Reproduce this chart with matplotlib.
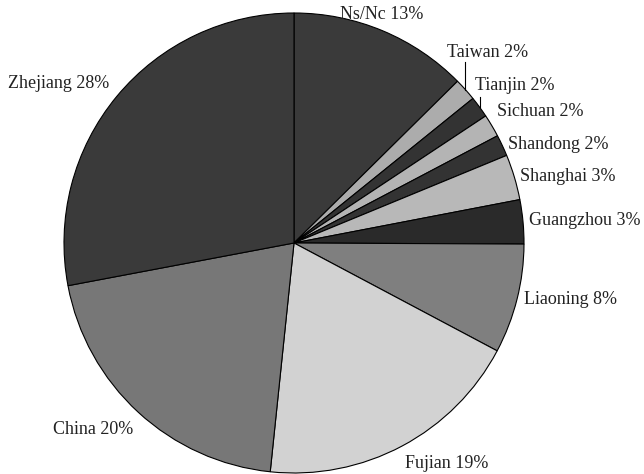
import numpy as np
import matplotlib
matplotlib.use("Agg")
import matplotlib.pyplot as plt

# ---- data (percent shares, clockwise from 12 o'clock) ----
categories = ["Ns/Nc", "Taiwan", "Tianjin", "Sichuan", "Shandong", "Shanghai",
              "Guangzhou", "Liaoning", "Fujian", "China", "Zhejiang"]
values = [12.6, 1.6, 1.5, 1.6, 1.5, 3.2, 3.1, 7.7, 18.9, 20.4, 28.0]
label_pct = [13, 2, 2, 2, 2, 3, 3, 8, 19, 20, 28]

# ---- styles ----
colors = ["#3a3a3a", "#acacac", "#333333", "#b4b4b4", "#333333", "#b8b8b8",
          "#2a2a2a", "#7f7f7f", "#d2d2d2", "#777777", "#3a3a3a"]

W, H = 644, 474
fig = plt.figure(figsize=(W / 100, H / 100), dpi=100)
ax = fig.add_axes([0, 0, 1, 1])
ax.set_xlim(0, W)
ax.set_ylim(0, H)
ax.set_aspect("equal")
ax.axis("off")

cx, cy, r = 294, H - 243, 230
wedges, _ = ax.pie(values, colors=colors, startangle=90, counterclock=False,
                   center=(cx, cy), radius=r, frame=True,
                   wedgeprops=dict(edgecolor="black", linewidth=0.8))
ax.set_xlim(0, W)
ax.set_ylim(0, H)
ax.axis("off")

# label layout: (x, y_from_top, ha) in pixel units
layout = [
    (382, 14, "center"),
    (447, 52, "left"),
    (475, 85, "left"),
    (497, 111, "left"),
    (508, 144, "left"),
    (520, 176, "left"),
    (529, 220, "left"),
    (524, 300, "left"),
    (405, 463, "left"),
    (133, 429, "right"),
    (109, 83, "right"),
]

font = dict(family=["Liberation Serif", "DejaVu Serif"], size=13, color="#222222")
for cat, pct, (x, y, ha) in zip(categories, label_pct, layout):
    ax.text(x, H - y, f"{cat} {pct}%", ha=ha, va="center", **font)

# leader lines for Taiwan and Tianjin: from wedge rim midpoint straight up
leader_tops = {"Taiwan": 62, "Tianjin": 97}
for w, cat in zip(wedges, categories):
    if cat in leader_tops:
        mid = np.deg2rad((w.theta1 + w.theta2) / 2)
        x0 = cx + r * np.cos(mid)
        y0 = cy + r * np.sin(mid)
        ax.plot([x0, x0], [y0, H - leader_tops[cat]], color="black", lw=0.8)

fig.savefig("out.png", dpi=100)
